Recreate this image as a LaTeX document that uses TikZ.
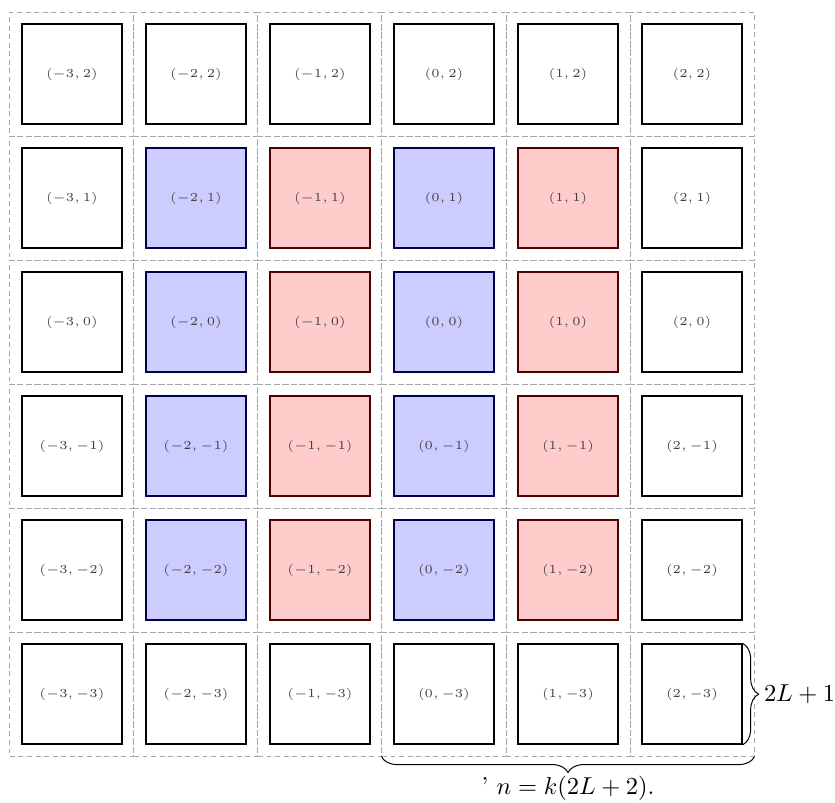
\documentclass[tikz,border=0pt]{standalone}
\usepackage{amsmath, amssymb}
\usepackage{tikz}
\usetikzlibrary{decorations.pathreplacing}

\begin{document}
\begin{tikzpicture}[x=1.78cm, y=1.78cm,
  cellbox/.style={draw=gray!70, dash pattern=on 2pt off 1.5pt, minimum size=1.78cm, inner sep=0pt},
  sitebox/.style={line width=0.7pt, minimum size=1.43cm, inner sep=0pt, font=\tiny, text=black!75},
  bracedeco/.style={decorate, decoration={brace, amplitude=6.5pt}}]
  \useasboundingbox (-3.58,-3.871) rectangle (3.153,2.597);
  % dashed cells
  \foreach \x in {-3,...,2}
    \foreach \y in {-3,...,2}
      \node[cellbox] (cell\x\y) at (\x,\y) {};
  % sites, coloured in the inner rows
  \foreach \x/\fillc/\linec in {-3/white/black, -2/blue!20/blue!30!black, -1/red!20/red!30!black,
                                0/blue!20/blue!30!black, 1/red!20/red!30!black, 2/white/black}
    \foreach \y in {-3,...,2} {
      \ifnum\y=-3 \def\fillc{white}\def\linec{black}\fi
      \ifnum\y=2 \def\fillc{white}\def\linec{black}\fi
      \node[sitebox, fill=\fillc, draw=\linec] (site\x\y) at (\x,\y) {$(\x, \y)$};
    }
  \draw[bracedeco] (site2-3.north east) -- (site2-3.south east)
    node[midway, right=8.5pt, inner sep=0pt] {$2L+1$};
  \draw[bracedeco] (cell2-3.south east) -- (cell0-3.south west)
    node[midway, below=7.8pt, inner sep=0pt] {' $n = k(2L+2).$};
\end{tikzpicture}
\end{document}
